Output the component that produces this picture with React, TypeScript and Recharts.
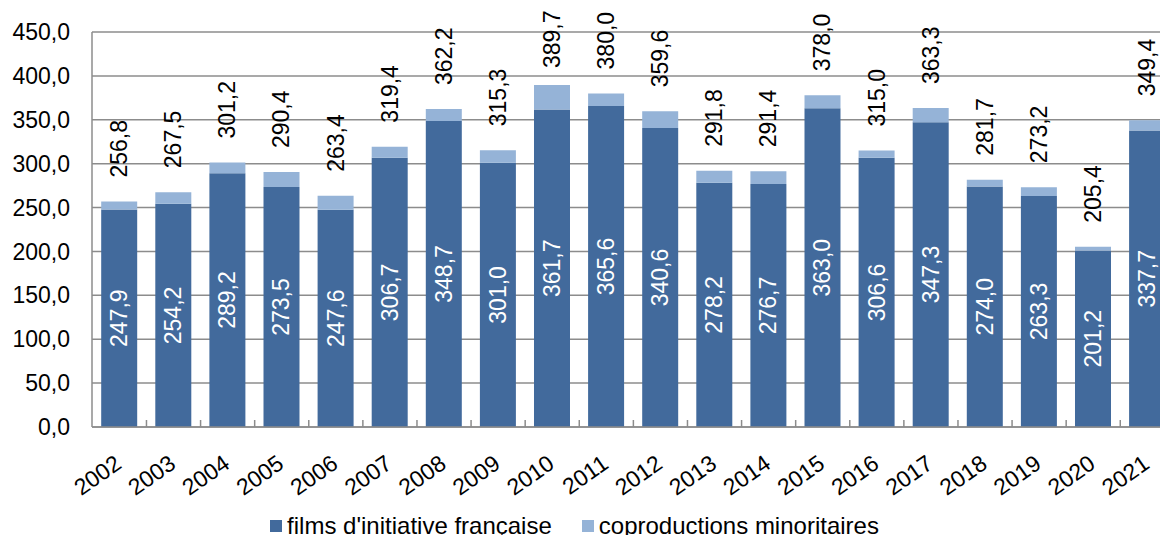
import React from "react";
import { Bar, BarChart, CartesianGrid, LabelList, XAxis, YAxis } from "recharts";

const YEARS = ["2002", "2003", "2004", "2005", "2006", "2007", "2008", "2009", "2010", "2011", "2012", "2013", "2014", "2015", "2016", "2017", "2018", "2019", "2020", "2021"];
const FRENCH = [247.9, 254.2, 289.2, 273.5, 247.6, 306.7, 348.7, 301.0, 361.7, 365.6, 340.6, 278.2, 276.7, 363.0, 306.6, 347.3, 274.0, 263.3, 201.2, 337.7];
const COPROD = [8.9, 13.3, 12.0, 16.9, 15.8, 12.7, 13.5, 14.3, 28.0, 14.4, 19.0, 13.6, 14.7, 15.0, 8.4, 16.0, 7.7, 9.9, 4.2, 11.7];
const TOTALS = [256.8, 267.5, 301.2, 290.4, 263.4, 319.4, 362.2, 315.3, 389.7, 380.0, 359.6, 291.8, 291.4, 378.0, 315.0, 363.3, 281.7, 273.2, 205.4, 349.4];
const Y_TICKS = [0, 50, 100, 150, 200, 250, 300, 350, 400, 450];
const SERIES = [
  { key: "french", name: "films d'initiative française", color: "#426a9c" },
  { key: "coprod", name: "coproductions minoritaires", color: "#95b3d7" },
];

const FONT = "'Liberation Sans', Arial, sans-serif";
const GRID = "#8c8c8c";
const CHART_W = 1176;
const Y_AXIS_W = 92;
const RIGHT = 2;
const fmt = (v: number) => v.toFixed(1).replace(".", ",");

const data = YEARS.map((year, i) => ({
  year,
  french: FRENCH[i],
  coprod: COPROD[i],
  total: TOTALS[i],
}));

const YearTick = ({ x, y, payload }: any) => (
  <text
    x={x + 4}
    y={y + 40}
    textAnchor="end"
    transform={`rotate(-35, ${x + 4}, ${y + 40})`}
    fontSize={23}
    fontFamily={FONT}
    fill="#000"
  >
    {payload.value}
  </text>
);

// white value inside the dark segment, plus the small inside tick at the right edge of the category
const InnerLabel = (props: any) => {
  const { x, y, width, height, value } = props;
  const cx = Number(x) + Number(width) / 2;
  const cy = Number(y) + Number(height) / 2;
  const gap = (Number(width) / 0.66) * 0.17;
  const ex = Number(x) + Number(width) + gap;
  const base = Number(y) + Number(height);
  return (
    <g>
      <line x1={ex} x2={ex} y1={base - 7} y2={base} stroke={GRID} strokeWidth={1.5} />
      <text
        x={cx}
        y={cy}
        textAnchor="middle"
        dominantBaseline="central"
        transform={`rotate(-90, ${cx}, ${cy})`}
        fontSize={23}
        fontFamily={FONT}
        fill="#fff"
      >
        {fmt(value)}
      </text>
    </g>
  );
};

const TotalLabel = ({ x, y, width, value }: any) => {
  const cx = x + width / 2;
  const cy = Math.max(y - 24, 68);
  return (
    <text
      x={cx}
      y={cy}
      textAnchor="start"
      dominantBaseline="central"
      transform={`rotate(-90, ${cx}, ${cy})`}
      fontSize={23}
      fontFamily={FONT}
      fill="#000"
    >
      {fmt(value)}
    </text>
  );
};

export default function App() {
  return (
    <div style={{ margin: -8, width: 1168, height: 543, overflow: "hidden", position: "relative", background: "#fff", fontFamily: FONT }}>
      <BarChart
        width={CHART_W}
        height={543}
        data={data}
        margin={{ top: 32, right: RIGHT, bottom: 0, left: 0 }}
        barCategoryGap="17%"
      >
        <CartesianGrid vertical={false} stroke={GRID} strokeWidth={1.5} />
        <XAxis
          dataKey="year"
          height={116}
          interval={0}
          tickLine={false}
          tickSize={0}
          tickMargin={0}
          axisLine={{ stroke: GRID, strokeWidth: 1.5 }}
          tick={<YearTick />}
        />
        <YAxis
          width={Y_AXIS_W}
          domain={[0, 450]}
          ticks={Y_TICKS}
          tickFormatter={fmt}
          tickLine={false}
          tickMargin={16}
          axisLine={{ stroke: GRID, strokeWidth: 1.5 }}
          tick={{ fontSize: 23, fill: "#000", fontFamily: FONT }}
        />
        <Bar dataKey="french" stackId="a" fill={SERIES[0].color} isAnimationActive={false}>
          <LabelList dataKey="french" content={<InnerLabel />} />
        </Bar>
        <Bar dataKey="coprod" stackId="a" fill={SERIES[1].color} isAnimationActive={false}>
          <LabelList dataKey="total" content={<TotalLabel />} />
        </Bar>
      </BarChart>
      <div style={{ position: "absolute", left: 0, top: 512, width: 1149, display: "flex", justifyContent: "center", gap: 30, fontSize: 24, lineHeight: "28px" }}>
        {SERIES.map((s) => (
          <div key={s.key} style={{ display: "flex", alignItems: "center", gap: 5 }}>
            <span style={{ width: 12, height: 12, background: s.color, display: "inline-block" }} />
            <span>{s.name}</span>
          </div>
        ))}
      </div>
    </div>
  );
}
